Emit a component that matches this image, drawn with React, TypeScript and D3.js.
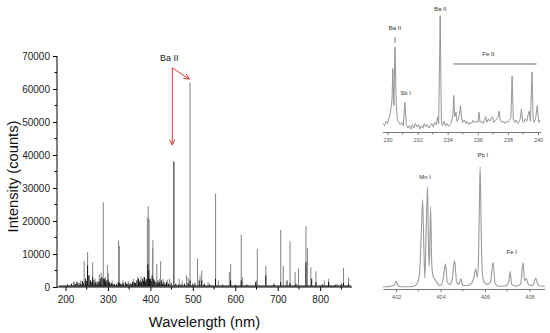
import { useEffect, useRef } from "react";
import * as d3 from "d3";

// main spectrum: [wavelength nm, counts]
const grayPeaks: [number, number][] = [
  [228, 1500], [236, 2000], [244, 7900], [252, 10500], [256, 3500], [264, 7500], [270, 2500],
  [280, 3800], [284, 4300], [289, 25700], [294, 3000], [299, 6600], [301, 4200], [310, 2000],
  [325, 14100], [327, 12400], [335, 2000], [348, 1800], [360, 2500], [370, 3000], [378, 3200],
  [385, 3000], [390, 2500], [393, 21000], [395, 24500], [397, 20500], [405, 11800], [406, 14200],
  [415, 7000], [422, 2500], [424, 7800], [430, 2500], [440, 2200], [445, 2500], [468, 2500],
  [475, 2000], [485, 3500], [489, 2800], [493.4, 62000], [511, 8700], [517, 3500], [521, 5000],
  [536, 1500], [553.5, 28300], [560, 2000], [586, 4500], [589, 7000], [614, 15800], [617, 3000],
  [650, 2000], [652, 11500], [672, 6400], [692, 1200], [707, 17300], [713, 6400], [720, 2000],
  [723, 2000], [729, 13900], [741, 4500], [749, 5600], [766.5, 18500], [770, 11800], [778, 6000],
  [790, 4800], [810, 2000], [820, 2500], [840, 1000], [855, 5800], [867, 2800],
];
const blackPeaks: [number, number][] = [
  [205, 800], [214, 1000], [220, 1500], [224, 900], [227, 1500], [232, 1200], [236, 1000],
  [240, 1800], [243, 1200], [247, 2500], [250, 1800], [252, 6500], [255, 3500], [259, 2000],
  [262, 1500], [264, 3000], [267, 2000], [270, 1200], [272, 1500], [275, 1000], [277, 1800],
  [280, 1400], [283, 2500], [286, 3000], [289, 2500], [292, 2500], [294, 1500], [296, 2000],
  [300, 2200], [302, 1300], [304, 1500], [307, 1000], [309, 1200], [312, 800], [315, 1000],
  [320, 900], [324, 1500], [327, 1200], [330, 1000], [333, 800], [336, 1200], [341, 1500],
  [344, 900], [347, 1000], [352, 1200], [355, 900], [358, 1500], [362, 1500], [365, 1200],
  [368, 2000], [372, 2500], [374, 1500], [376, 2000], [379, 1500], [382, 2500], [384, 1800],
  [386, 3000], [388, 1500], [390, 2000], [392, 2500], [394, 7000], [396, 5000], [398, 2500],
  [400, 2500], [402, 1800], [404, 3500], [407, 2500], [410, 2000], [413, 1500], [416, 1200],
  [418, 2000], [420, 1200], [422, 1500], [426, 2000], [429, 1000], [432, 1500], [435, 900],
  [438, 1500], [443, 1000], [449, 1200], [455.4, 38000], [460, 1000], [466, 700], [472, 800],
  [480, 1000], [489, 1200], [493.4, 2000], [500, 1000], [505, 1200], [515, 2000], [521, 2000],
  [527, 1000], [540, 800], [553.5, 2500], [570, 700], [589, 2000], [600, 700], [614, 2000],
  [627, 700], [648, 1500], [672, 3500], [690, 700], [707, 1500], [729, 1200], [743, 1000],
  [766.5, 7500], [780, 2500], [790, 1500], [805, 800], [820, 1500], [836, 700], [850, 1000],
  [855, 1200], [867, 800],
];
const baseLevel = 300;
const mainXTicks = [200, 300, 400, 500, 600, 700, 800];
const mainXMinor = [250, 350, 450, 550, 650, 750, 850];
const mainYTicks = [0, 10000, 20000, 30000, 40000, 50000, 60000, 70000];
const mainYMinor = [5000, 15000, 25000, 35000, 45000, 55000, 65000];

// Ba II inset (230-240 nm), relative intensity
const baWl = [
  229.7, 229.8, 229.9, 230.0, 230.1, 230.2, 230.3, 230.35, 230.42, 230.5, 230.58, 230.65, 230.75,
  230.85, 230.95, 231.05, 231.15, 231.25, 231.35, 231.45, 231.55, 231.65, 231.75, 231.85, 231.95,
  232.05, 232.15, 232.25, 232.35, 232.45, 232.55, 232.65, 232.75, 232.85, 232.95, 233.05, 233.15,
  233.25, 233.32, 233.4, 233.5, 233.58, 233.65, 233.75, 233.85, 233.95, 234.05, 234.15, 234.25,
  234.35, 234.4, 234.47, 234.55, 234.62, 234.7, 234.78, 234.85, 234.93, 235.0, 235.1, 235.2,
  235.3, 235.4, 235.5, 235.6, 235.7, 235.8, 235.9, 236.0, 236.08, 236.15, 236.25, 236.35, 236.45,
  236.52, 236.6, 236.7, 236.8, 236.9, 236.98, 237.05, 237.15, 237.25, 237.35, 237.42, 237.5,
  237.6, 237.7, 237.8, 237.9, 238.0, 238.1, 238.2, 238.28, 238.36, 238.45, 238.55, 238.65,
  238.75, 238.82, 238.9, 238.98, 239.05, 239.15, 239.25, 239.35, 239.42, 239.5, 239.6, 239.68,
  239.75, 239.85, 239.95, 240.05, 240.15,
];
const baInt = [
  4, 2, 6, 4, 9, 14, 25, 53, 20, 72, 22, 8, 5,
  3, 5, 2, 23, 3, 0, 2, -1, 3, 0, 4, 1,
  3, -1, 2, 0, 4, 1, 3, 0, 2, 4, 1, 5,
  3, 10, 4, 100, 5, 2, 6, 2, 4, 1, 3, 5,
  12, 29, 10, 14, 6, 8, 12, 20, 8, 5, 7, 4,
  6, 3, 5, 4, 7, 5, 6, 5, 14, 5, 6, 4, 7,
  10, 5, 8, 6, 9, 10, 5, 6, 8, 10, 15, 7,
  5, 6, 4, 6, 5, 7, 9, 46, 8, 5, 7, 4,
  6, 8, 17, 6, 5, 8, 6, 12, 15, 6, 50, 8,
  5, 9, 20, 5, 7,
];
const baTicks = [230, 232, 234, 236, 238, 240];
const baMinor = [231, 233, 235, 237, 239];

// Mn / Pb inset (402-408 nm), relative intensity
const pbWl = [
  401.4, 401.6, 401.75, 401.92, 402.0, 402.08, 402.2, 402.5, 402.8, 402.95, 403.05, 403.12,
  403.19, 403.25, 403.29, 403.34, 403.41, 403.46, 403.49, 403.52, 403.55, 403.6, 403.66, 403.75,
  403.85, 403.95, 404.05, 404.12, 404.22, 404.3, 404.42, 404.52, 404.63, 404.72, 404.82, 404.91,
  405.0, 405.2, 405.4, 405.5, 405.58, 405.65, 405.7, 405.74, 405.78, 405.83, 405.88, 405.95,
  406.1, 406.25, 406.36, 406.45, 406.6, 406.8, 406.95, 407.07, 407.13, 407.2, 407.4, 407.6,
  407.71, 407.78, 407.86, 407.95, 408.1, 408.2, 408.28, 408.38, 408.5, 408.7,
];
const pbInt = [
  1, 1, 1.5, 2.5, 5.5, 2, 1, 1, 1.5, 4, 12, 40,
  73, 30, 8, 40, 83.5, 30, 18, 40, 67, 20, 10, 7,
  4, 2, 3, 8, 20, 5, 3, 7, 22.7, 5, 3, 7.6,
  2, 2, 4, 9, 15.9, 9, 20, 60, 100, 45, 12, 5,
  3, 5, 21.2, 4, 1.5, 1.5, 2, 5, 13.5, 3, 1.5, 3,
  21, 6, 7.6, 3, 2, 4, 8.2, 3, 1.5, 1.5,
];
const pbTicks = [402, 404, 406, 408];
const pbMinor = [403, 405, 407];

export default function App() {
  const ref = useRef<SVGSVGElement>(null);

  useEffect(() => {
    if (!ref.current) return;
    const svg = d3.select(ref.current);
    svg.selectAll("*").remove();
    const font = "'Liberation Sans', Arial, sans-serif";

    // ---- main spectrum ----
    const x = d3.scaleLinear().domain([180, 875]).range([57, 352]);
    const y = d3.scaleLinear().domain([0, 70000]).range([287, 56]);

    const g = svg.append("g");

    g.append("g")
      .selectAll("line")
      .data(grayPeaks)
      .join("line")
      .attr("x1", d => x(d[0]))
      .attr("x2", d => x(d[0]))
      .attr("y1", y(baseLevel))
      .attr("y2", d => y(d[1]))
      .attr("stroke", "#8c8c8c")
      .attr("stroke-width", 1.1);

    g.append("line")
      .attr("x1", x(185)).attr("x2", x(872))
      .attr("y1", y(baseLevel)).attr("y2", y(baseLevel))
      .attr("stroke", "#111").attr("stroke-width", 1);

    g.append("g")
      .selectAll("line")
      .data(blackPeaks)
      .join("line")
      .attr("x1", d => x(d[0]))
      .attr("x2", d => x(d[0]))
      .attr("y1", y(baseLevel))
      .attr("y2", d => y(d[1]))
      .attr("stroke", "#111")
      .attr("stroke-width", 1);

    // axes
    const xAxis = g.append("g").attr("transform", `translate(0,${y(0)})`);
    xAxis.call(d3.axisBottom(x).tickValues(mainXTicks).tickSize(4).tickPadding(5).tickFormat(d3.format("d")));
    xAxis.append("g").selectAll("line").data(mainXMinor).join("line")
      .attr("x1", d => x(d)).attr("x2", d => x(d)).attr("y1", 0).attr("y2", 2.5)
      .attr("stroke", "#000");
    xAxis.select(".domain").attr("d", `M${x(180)},0H${x(875)}`);

    const yAxis = g.append("g").attr("transform", `translate(${x(180)},0)`);
    yAxis.call(d3.axisLeft(y).tickValues(mainYTicks).tickSize(4).tickPadding(3).tickFormat(d3.format("d")));
    yAxis.append("g").selectAll("line").data(mainYMinor).join("line")
      .attr("x1", 0).attr("x2", -2.5).attr("y1", d => y(d)).attr("y2", d => y(d))
      .attr("stroke", "#000");
    yAxis.select(".domain").attr("d", `M0,${y(0)}V${y(70000)}`);

    for (const ax of [xAxis, yAxis]) {
      ax.selectAll("text").attr("font-family", font).attr("font-size", 10).attr("fill", "#222");
      ax.selectAll(".domain").attr("stroke", "#000");
    }

    g.append("text")
      .attr("transform", `translate(18,${(y(0) + y(70000)) / 2 + 5}) rotate(-90)`)
      .attr("text-anchor", "middle")
      .attr("font-family", font).attr("font-size", 14.7).attr("fill", "#111")
      .text("Intensity (counts)");
    g.append("text")
      .attr("x", (x(180) + x(875)) / 2).attr("y", 327)
      .attr("text-anchor", "middle")
      .attr("font-family", font).attr("font-size", 14.7).attr("fill", "#111")
      .text("Wavelength (nm)");

    // Ba II annotation
    const red = "#d83a3a";
    const ox = x(451.6), oy = y(66400);
    g.append("text").attr("x", ox - 3).attr("y", y(67500) - 3)
      .attr("text-anchor", "middle").attr("font-family", font).attr("font-size", 9).attr("fill", "#222")
      .text("Ba II");
    const arrow = (tx: number, ty: number) => {
      const ang = Math.atan2(ty - oy, tx - ox);
      const h = 6, sp = 0.45;
      g.append("path")
        .attr("d", `M${ox},${oy}L${tx},${ty}` +
          `M${tx - h * Math.cos(ang - sp)},${ty - h * Math.sin(ang - sp)}L${tx},${ty}` +
          `L${tx - h * Math.cos(ang + sp)},${ty - h * Math.sin(ang + sp)}`)
        .attr("fill", "none").attr("stroke", red).attr("stroke-width", 1);
    };
    arrow(x(451.6), y(43000));
    arrow(x(491.5), y(63000));

    // ---- inset 1: Ba II 230-240 ----
    const x1 = d3.scaleLinear().domain([229.7, 240.2]).range([383, 541]);
    const y1 = d3.scaleLinear().domain([0, 100]).range([128, 15.7]);
    const inset1 = svg.append("g");
    inset1.append("path")
      .datum(baWl.map((w, i) => [w, baInt[i]] as [number, number]))
      .attr("d", d3.line<[number, number]>().x(d => x1(d[0])).y(d => y1(d[1])))
      .attr("fill", "none").attr("stroke", "#8a8a8a").attr("stroke-width", 0.9);
    const ax1 = inset1.append("g").attr("transform", "translate(0,132.5)");
    ax1.call(d3.axisBottom(x1).tickValues(baTicks).tickSize(2.5).tickPadding(3).tickFormat(d3.format("d")));
    ax1.append("g").selectAll("line").data(baMinor).join("line")
      .attr("x1", d => x1(d)).attr("x2", d => x1(d)).attr("y1", 0).attr("y2", 1.8).attr("stroke", "#777");
    ax1.select(".domain").attr("d", `M${x1(229.7)},0H${x1(240.2)}`).attr("stroke", "#777");
    ax1.selectAll(".tick line").attr("stroke", "#777");
    ax1.selectAll("text").attr("font-family", font).attr("font-size", 5.5).attr("fill", "#555");

    const lab = (gg: any, tx: number, ty: number, s: string, fs = 6) =>
      gg.append("text").attr("x", tx).attr("y", ty).attr("text-anchor", "middle")
        .attr("font-family", font).attr("font-size", fs).attr("fill", "#333").text(s);
    lab(inset1, x1(230.5), y1(87), "Ba II");
    inset1.append("line").attr("x1", x1(230.5)).attr("x2", x1(230.5))
      .attr("y1", y1(81)).attr("y2", y1(76)).attr("stroke", "#444").attr("stroke-width", 0.8);
    lab(inset1, x1(231.2), y1(29), "Sb I");
    lab(inset1, x1(233.5), y1(104), "Ba II");
    lab(inset1, x1(236.7), y1(64), "Fe II");
    inset1.append("line").attr("x1", x1(234.4)).attr("x2", x1(239.9))
      .attr("y1", y1(57)).attr("y2", y1(57)).attr("stroke", "#666").attr("stroke-width", 1);

    // ---- inset 2: Mn I / Pb I 402-408 ----
    const x2 = d3.scaleLinear().domain([401.42, 408.7]).range([383.3, 545]);
    const y2 = d3.scaleLinear().domain([0, 100]).range([288, 166.7]);
    const inset2 = svg.append("g");
    inset2.append("path")
      .datum(pbWl.map((w, i) => [w, pbInt[i]] as [number, number]))
      .attr("d", d3.line<[number, number]>().x(d => x2(d[0])).y(d => y2(d[1])).curve(d3.curveMonotoneX))
      .attr("fill", "none").attr("stroke", "#9a9a9a").attr("stroke-width", 1.1);
    const ax2 = inset2.append("g").attr("transform", "translate(0,289.5)");
    ax2.call(d3.axisBottom(x2).tickValues(pbTicks).tickSize(2.5).tickPadding(3).tickFormat(d3.format("d")));
    ax2.append("g").selectAll("line").data(pbMinor).join("line")
      .attr("x1", d => x2(d)).attr("x2", d => x2(d)).attr("y1", 0).attr("y2", 1.8).attr("stroke", "#777");
    ax2.select(".domain").attr("d", `M${x2(401.42)},0H${x2(408.7)}`).attr("stroke", "#777");
    ax2.selectAll(".tick line").attr("stroke", "#777");
    ax2.selectAll("text").attr("font-family", font).attr("font-size", 5.5).attr("fill", "#555");

    lab(inset2, x2(403.3), y2(90), "Mn I");
    lab(inset2, x2(405.9), y2(108), "Pb I");
    lab(inset2, x2(407.2), y2(28), "Fe I");
  }, []);

  return (
    <svg ref={ref} width={550} height={333}
      style={{ position: "absolute", left: 0, top: 0, background: "#fff" }} />
  );
}
